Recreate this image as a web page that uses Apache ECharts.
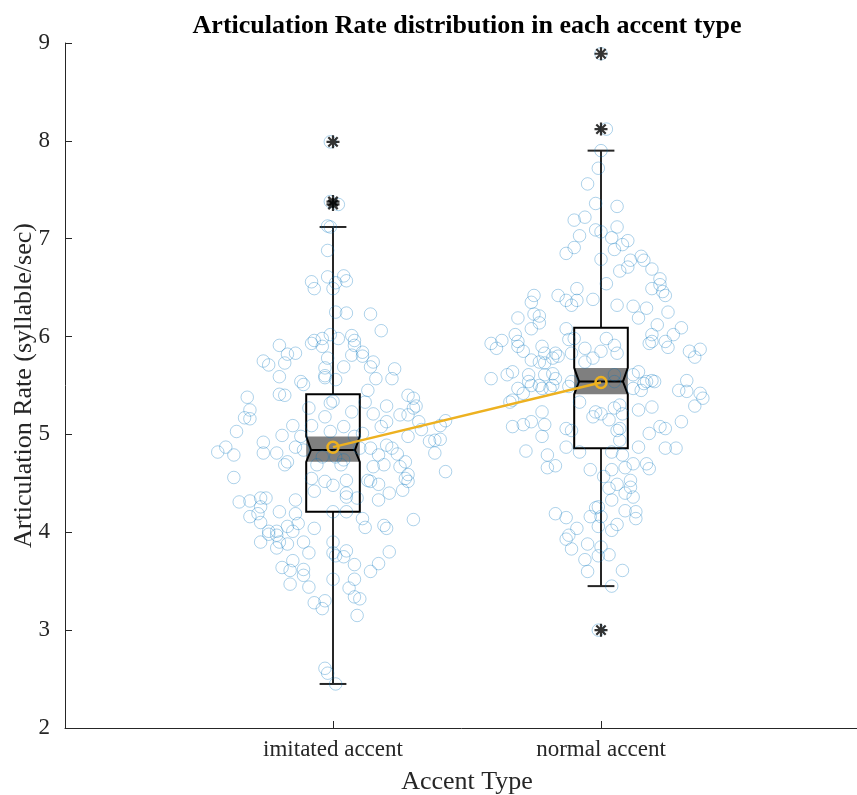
<!DOCTYPE html>
<html>
<head>
<meta charset="utf-8">
<script src="https://cdn.jsdelivr.net/npm/echarts@6/dist/echarts.min.js"></script>
<style>html,body{margin:0;padding:0;background:#fff;overflow:hidden;}#chart{width:857px;height:795px;}</style>
</head>
<body>
<div id="chart"></div>
<script>
const categories = ['imitated accent', 'normal accent'];

// box statistics per category
const lowerWhisker = [2.45, 3.45];
const q1 = [4.21, 4.86];
const medians = [4.84, 5.54];
const q3 = [5.41, 6.09];
const upperWhisker = [7.12, 7.90];
const notchLow = [4.72, 5.41];
const notchHigh = [4.98, 5.68];
const means = [4.87, 5.53];

const imitatedOutliers = [7.99, 7.38, 7.35];
const normalOutliers = [8.89, 8.12, 3.00];

// jittered raw observations (offset from category centre, value)
const imitatedJitter = [-0.01,-0.01,0.02,-0.02,-0.01,-0.02,-0.02,-0.08,-0.07,0.00,0.01,0.04,0.05,0.01,0.05,0.14,0.18,-0.01,0.02,0.07,0.08,0.08,-0.04,-0.07,-0.08,-0.04,-0.20,-0.17,-0.14,-0.26,-0.24,-0.18,-0.02,0.07,0.11,0.11,0.15,0.23,-0.03,0.04,0.14,
-0.20,-0.03,-0.03,0.01,0.16,0.22,-0.11,-0.12,-0.20,-0.18,-0.32,0.00,-0.01,0.13,0.12,0.07,0.15,0.20,0.28,0.30,0.31,0.30,-0.31,-0.33,-0.31,-0.36,-0.40,-0.43,-0.37,-0.26,-0.26,-0.19,-0.21,-0.15,-0.09,-0.08,-0.03,-0.01,0.04,-0.12,-0.14,-0.11,-0.17,-0.18,-0.37,-0.06,-0.08,0.03,-0.03,0.00,0.05,0.05,0.05,-0.14,-0.07,-0.35,-0.31,-0.27,-0.25,-0.27,-0.28,-0.31,-0.20,-0.14,-0.13,-0.27,-0.24,-0.21,-0.17,-0.15,-0.07,0.05,0.11,0.12,0.14,0.13,0.17,0.21,0.17,0.19,0.20,0.30,0.26,0.27,0.28,0.28,0.25,0.27,0.42,0.38,0.36,0.38,0.40,0.32,0.33,0.28,0.42,0.40,0.25,0.28,0.20,0.18,0.22,0.20,0.24,0.14,0.17,0.19,0.15,0.10,0.11,0.08,0.01,0.04,-0.04,0.09,0.00,
-0.27,-0.24,-0.21,-0.20,-0.17,-0.21,-0.11,-0.09,-0.15,-0.19,-0.16,-0.11,-0.11,-0.16,-0.09,-0.07,-0.04,-0.03,0.00,0.00,0.01,0.04,0.05,0.08,0.00,0.08,0.06,0.08,0.10,0.09,0.14,0.17,0.21,-0.03,-0.02,0.01];
const imitatedValues = [7.99,7.38,7.35,7.13,7.12,6.88,6.61,6.56,6.49,6.49,6.55,6.62,6.57,6.25,6.24,6.23,6.06,6.02,5.98,6.01,5.96,5.91,5.98,5.96,5.93,5.90,5.91,5.82,5.83,5.75,5.71,5.73,5.78,5.81,5.84,5.80,5.74,5.67,5.68,5.69,5.69,
5.59,5.60,5.58,5.56,5.57,5.57,5.51,5.54,5.41,5.40,5.38,5.34,5.32,5.45,5.33,5.23,5.21,5.29,5.40,5.37,5.29,5.27,5.25,5.17,5.16,5.03,4.87,4.82,4.79,4.92,4.81,4.99,4.81,5.09,5.27,5.09,5.18,5.03,5.08,4.98,4.87,4.84,4.72,4.69,4.56,4.69,4.55,4.69,4.52,4.48,4.53,4.36,4.40,4.33,4.42,4.31,4.32,4.35,4.35,4.26,4.19,4.16,4.21,4.19,4.09,4.10,4.01,4.01,4.06,4.01,4.04,4.21,4.14,4.05,4.52,4.53,4.49,4.40,4.33,4.07,4.04,4.13,4.43,4.55,4.52,4.59,4.67,4.72,4.62,4.81,4.93,4.94,4.95,5.13,5.05,4.98,5.14,5.09,5.20,5.20,5.13,5.08,4.86,4.89,4.80,4.86,4.79,4.69,4.67,4.86,5.01,4.98,4.77,4.74,4.77,4.35,4.21,
3.90,3.98,3.97,3.90,3.88,3.84,3.90,3.79,3.71,3.64,3.61,3.62,3.56,3.47,3.44,3.28,3.22,3.30,3.90,3.79,3.76,3.75,3.81,3.67,3.52,3.52,3.43,3.34,3.32,3.15,3.60,3.68,3.80,2.61,2.56,2.45];

const normalJitter = [0.00,0.02,0.00,-0.01,-0.05,-0.02,0.06,-0.10,-0.06,-0.02,0.00,0.06,-0.08,-0.10,-0.13,0.04,0.05,0.08,0.10,0.00,0.11,0.15,0.16,0.07,0.10,0.19,0.22,
0.02,0.19,0.22,0.23,0.24,-0.25,-0.26,-0.16,-0.13,-0.11,-0.09,-0.09,-0.03,0.06,0.12,0.17,0.25,0.14,0.21,0.19,0.19,0.18,0.30,0.27,0.24,0.25,0.33,0.37,0.35,-0.31,-0.25,-0.23,-0.23,-0.26,-0.32,-0.31,-0.29,-0.31,-0.41,-0.39,-0.37,-0.13,-0.12,-0.10,-0.11,-0.22,-0.21,-0.23,-0.21,-0.17,-0.16,-0.18,-0.26,-0.06,-0.03,0.00,0.02,0.05,0.06,-0.06,-0.35,-0.33,-0.41,-0.27,-0.27,-0.26,-0.21,-0.18,-0.17,-0.18,-0.19,-0.23,-0.22,-0.31,-0.29,-0.34,-0.33,-0.12,-0.11,-0.08,0.05,0.05,0.12,0.14,0.16,0.17,0.19,0.20,0.12,0.15,0.29,0.32,0.32,0.37,0.38,0.35,-0.22,-0.21,-0.26,-0.29,-0.33,-0.22,-0.28,-0.20,-0.13,-0.11,-0.13,-0.03,-0.02,0.00,0.03,0.05,0.07,0.08,0.07,0.06,0.07,0.14,0.19,0.22,0.24,0.18,0.30,0.14,0.24,0.28,0.04,0.08,-0.08,
-0.20,-0.17,-0.04,0.04,0.01,0.09,0.12,0.17,0.18,0.06,0.03,0.09,0.11,0.11,0.12,0.04,-0.01,-0.02,0.09,0.13,0.13,-0.17,-0.13,-0.04,0.00,0.06,0.04,-0.01,-0.09,-0.12,-0.13,-0.05,-0.11,0.00,0.03,-0.01,-0.06,-0.05,0.08,0.04,-0.01];
const normalValues = [8.89,8.12,7.90,7.72,7.56,7.36,7.33,7.19,7.22,7.09,7.07,7.12,7.03,6.91,6.85,7.01,6.89,6.94,6.98,6.79,6.78,6.82,6.78,6.67,6.71,6.69,6.59,
6.54,6.49,6.53,6.46,6.42,6.42,6.35,6.42,6.37,6.32,6.49,6.37,6.38,6.32,6.31,6.29,6.25,6.19,6.12,6.02,5.95,5.93,6.09,6.02,5.95,5.89,5.85,5.87,5.79,6.19,6.23,6.21,6.14,6.08,6.02,5.95,5.85,5.90,5.93,5.88,5.96,6.08,5.97,5.98,5.83,5.90,5.83,5.74,5.73,5.83,5.80,5.78,5.76,5.88,5.78,5.85,5.98,5.91,5.83,5.74,5.61,5.64,5.57,5.61,5.54,5.50,5.61,5.62,5.57,5.50,5.47,5.50,5.47,5.47,5.42,5.33,5.35,5.49,5.54,5.33,5.61,5.54,5.61,5.64,5.52,5.54,5.55,5.54,5.47,5.45,5.45,5.55,5.44,5.42,5.37,5.29,5.23,5.10,5.13,5.10,5.08,4.98,4.83,4.79,5.06,5.04,4.87,5.18,5.23,5.21,5.15,5.27,5.30,5.21,5.06,5.04,4.94,5.25,5.28,5.08,5.06,5.01,5.13,4.87,4.86,4.86,4.82,4.79,4.82,
4.66,4.68,4.64,4.64,4.57,4.66,4.70,4.70,4.65,4.49,4.45,4.40,4.53,4.46,4.36,4.33,4.26,4.25,4.22,4.21,4.14,4.19,4.15,4.16,4.16,4.08,4.02,4.06,4.04,3.97,3.93,3.88,3.83,3.85,3.77,3.76,3.72,3.60,3.61,3.45,3.00];

const serif = 'Liberation Serif';
const chart = echarts.init(document.getElementById('chart'));

const boxData = categories.map((c, i) => [i + 1, lowerWhisker[i], q1[i], medians[i], q3[i], upperWhisker[i], notchLow[i], notchHigh[i]]);
const imitatedPoints = imitatedValues.map((v, i) => [1 + imitatedJitter[i], v]);
const normalPoints = normalValues.map((v, i) => [2 + normalJitter[i], v]);
const outlierPoints = imitatedOutliers.map(v => [1, v]).concat(normalOutliers.map(v => [2, v]));
const meanPoints = means.map((m, i) => [i + 1, m]);

const asterisk = 'path://M8.3 0L11.7 0L11.7 20L8.3 20Z M0 8.3L20 8.3L20 11.7L0 11.7Z M1.6 4L4 1.6L18.4 16L16 18.4Z M16 1.6L18.4 4L4 18.4L1.6 16Z';

function renderBox(params, api) {
  const x = api.value(0);
  const lw = api.value(1), b1 = api.value(2), md = api.value(3), b3 = api.value(4), uw = api.value(5), nl = api.value(6), nh = api.value(7);
  const w = 0.1, wn = 0.082, cw = 0.05;
  const p = (v, dx) => api.coord([x + dx, v]);
  const lineStyle = { stroke: '#000', lineWidth: 2, fill: null };
  const whiskStyle = { stroke: '#262626', lineWidth: 2 };
  return {
    type: 'group',
    children: [
      { type: 'polygon', shape: { points: [p(nl, -w), p(nl, w), p(nh, w), p(nh, -w)] }, style: { fill: '#7f7f7f' } },
      { type: 'line', shape: { x1: p(b3, 0)[0], y1: p(b3, 0)[1], x2: p(uw, 0)[0], y2: p(uw, 0)[1] }, style: whiskStyle },
      { type: 'line', shape: { x1: p(b1, 0)[0], y1: p(b1, 0)[1], x2: p(lw, 0)[0], y2: p(lw, 0)[1] }, style: whiskStyle },
      { type: 'line', shape: { x1: p(uw, -cw)[0], y1: p(uw, 0)[1], x2: p(uw, cw)[0], y2: p(uw, 0)[1] }, style: whiskStyle },
      { type: 'line', shape: { x1: p(lw, -cw)[0], y1: p(lw, 0)[1], x2: p(lw, cw)[0], y2: p(lw, 0)[1] }, style: whiskStyle },
      { type: 'polygon', shape: { points: [p(b1, -w), p(nl, -w), p(md, -wn), p(nh, -w), p(b3, -w), p(b3, w), p(nh, w), p(md, wn), p(nl, w), p(b1, w)] }, style: lineStyle },
      { type: 'line', shape: { x1: p(md, -wn)[0], y1: p(md, 0)[1], x2: p(md, wn)[0], y2: p(md, 0)[1] }, style: { stroke: '#000', lineWidth: 2 } }
    ]
  };
}

const pointStyle = { color: 'rgba(0,0,0,0)', borderColor: 'rgba(0,114,189,0.4)', borderWidth: 1 };

chart.setOption({
  animation: false,
  backgroundColor: '#fff',
  title: {
    text: 'Articulation Rate distribution in each accent type',
    left: 462, top: 8, textAlign: 'center',
    textStyle: { fontFamily: serif, fontWeight: 'bold', fontSize: 26, color: '#000' }
  },
  grid: { left: 65, width: 804, top: 43, height: 685, containLabel: false, outerBoundsMode: 'none' },
  xAxis: {
    type: 'value', min: 0, max: 3, interval: 1,
    name: 'Accent Type', nameLocation: 'middle', nameGap: 41, nameMoveOverlap: false,
    nameTextStyle: { fontFamily: serif, fontSize: 26, color: '#262626' },
    axisLine: { onZero: false, lineStyle: { color: '#262626', width: 1 } },
    axisTick: { inside: true, length: 7, customValues: [1, 2], lineStyle: { color: '#262626' } },
    axisLabel: { customValues: [1, 2], formatter: v => categories[Math.round(v) - 1] || '', fontFamily: serif, fontSize: 23, color: '#262626', margin: 10 },
    splitLine: { show: false }
  },
  yAxis: {
    type: 'value', min: 2, max: 9, interval: 1,
    name: 'Articulation Rate (syllable/sec)', nameLocation: 'middle', nameGap: 28, nameMoveOverlap: false,
    nameTextStyle: { fontFamily: serif, fontSize: 26, color: '#262626' },
    axisLine: { show: true, lineStyle: { color: '#262626', width: 1 } },
    axisTick: { show: true, inside: true, length: 7, lineStyle: { color: '#262626' } },
    axisLabel: { fontFamily: serif, fontSize: 23, color: '#262626', margin: 15 },
    splitLine: { show: false }
  },
  series: [
    { type: 'custom', name: 'box', renderItem: renderBox, data: boxData, z: 2, encode: { x: 0, y: [1, 5] }, clip: false },
    { type: 'scatter', name: categories[0], data: imitatedPoints, symbol: 'circle', symbolSize: 12.5, itemStyle: pointStyle, z: 3 },
    { type: 'scatter', name: categories[1], data: normalPoints, symbol: 'circle', symbolSize: 12.5, itemStyle: pointStyle, z: 3 },
    { type: 'scatter', name: 'outliers', data: outlierPoints, symbol: asterisk, symbolSize: 13, itemStyle: { color: '#000' }, z: 4 },
    { type: 'line', name: 'mean', data: meanPoints, symbol: 'circle', symbolSize: 11, showAllSymbol: true,
      lineStyle: { color: '#EDB120', width: 2.5 }, itemStyle: { color: 'rgba(0,0,0,0)', borderColor: '#EDB120', borderWidth: 2.5 }, z: 5 }
  ]
});
</script>
</body>
</html>
